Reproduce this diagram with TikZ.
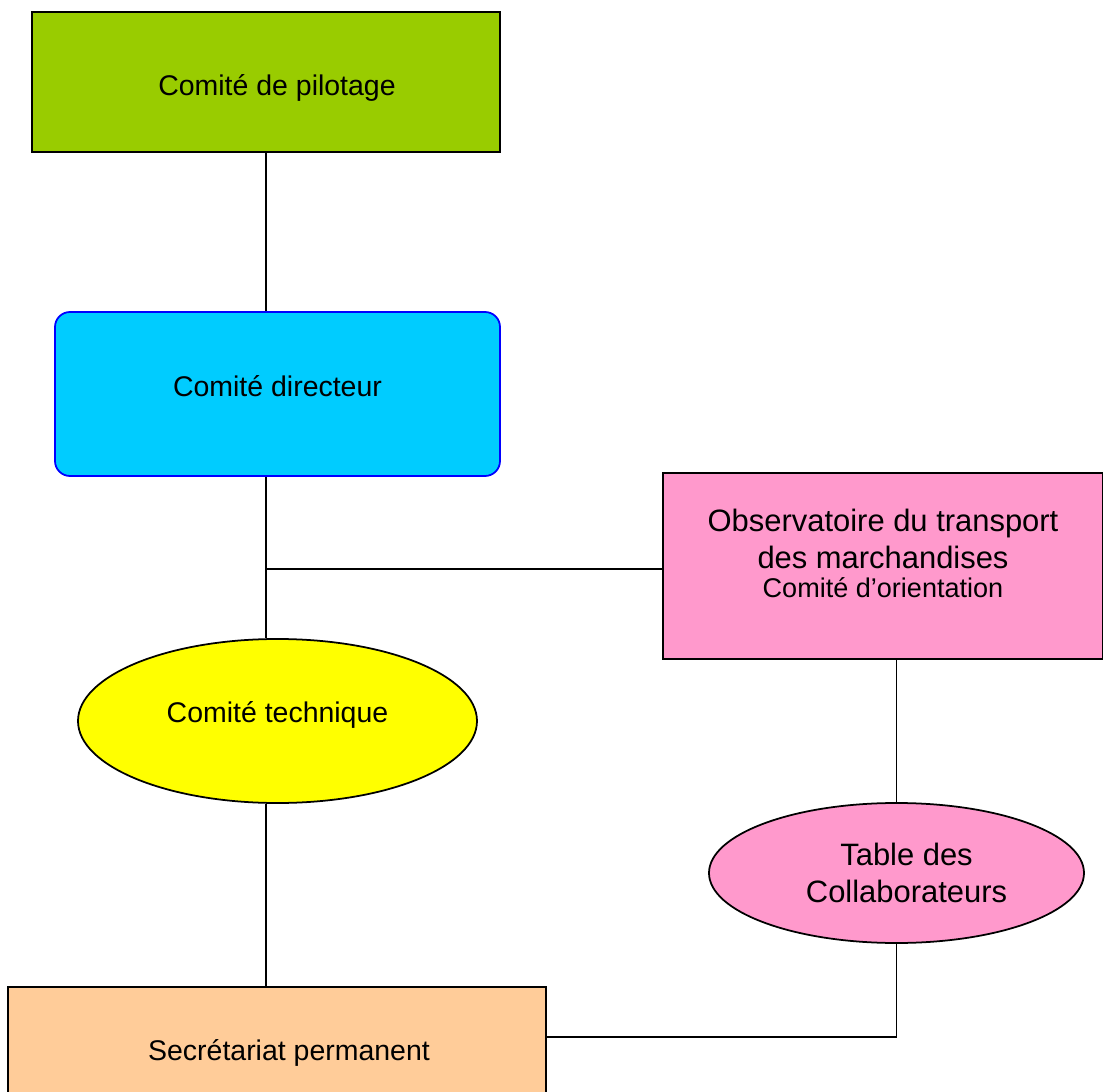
\documentclass[tikz,border=0pt]{standalone}
\usepackage{fontspec}
\setmainfont{Liberation Sans}
\usetikzlibrary{shapes.geometric}
\usetikzlibrary{positioning}
\definecolor{vertpil}{HTML}{99CC00}
\definecolor{bleudir}{HTML}{00CCFF}
\definecolor{rosobs}{HTML}{FF99CC}
\definecolor{jaunetech}{HTML}{FFFF00}
\definecolor{peachsec}{HTML}{FFCC99}
\begin{document}
\begin{tikzpicture}[line width=.5pt]
\tikzstyle{box}=[rectangle,draw=black,inner sep=2pt,align=center,font=\fontsize{8.1}{9.7}\selectfont]
\tikzstyle{oval}=[ellipse,draw=black,inner sep=0pt,align=center,font=\fontsize{8.1}{9.7}\selectfont]
\useasboundingbox (0,0) rectangle (11.03,-10.92);
\fill[white] (0,0) rectangle (11.03,-10.92);
\node [box] (pilot) at(2.66,-0.82) [fill=vertpil,minimum width=4.68cm,minimum height=1.40cm,text height=0.32cm] {\hspace{0.22cm}Comité de pilotage};
\node [box] (dir) at(2.775,-3.94) [fill=bleudir,draw=blue,rounded corners=0.15cm,minimum width=4.45cm,minimum height=1.64cm,text depth=0.16cm] {Comité directeur};
\node [box] (obs) at(8.83,-5.66) [fill=rosobs,minimum width=4.40cm,minimum height=1.86cm,font=\fontsize{8.8}{10.5}\selectfont,text depth=0.26cm] {Observatoire du transport\\des marchandises\\[-2.3pt]{\fontsize{7.7}{9}\selectfont Comité d’orientation}};
\node [oval] (tech) at(2.775,-7.21) [fill=jaunetech,minimum width=3.99cm,minimum height=1.64cm,text depth=0.17cm] {Comité technique};
\node [oval] (table) at(8.965,-8.73) [fill=rosobs,minimum width=3.75cm,minimum height=1.40cm,font=\fontsize{8.8}{10.5}\selectfont] {\hspace{0.2cm}Table des\\\hspace{0.2cm}Collaborateurs};
\node [box] (sec) at(2.77,-10.53) [fill=peachsec,minimum width=5.38cm,minimum height=1.32cm,text depth=0.05cm] {\hspace{0.24cm}Secrétariat permanent};

\coordinate (j1) at(2.66,-5.69);
\coordinate (k1) at(8.965,-10.37);

\draw (pilot.south) -- (pilot.south |- dir.north);
\draw (j1 |- dir.south) -- (j1 |- tech.north);
\draw (j1) -- (j1 -| obs.west);
\draw (j1 |- tech.south) -- (j1 |- sec.north);
\draw (table.north) -- (table.north |- obs.south);
\draw (table.south) -- (k1) -- (k1 -| sec.east);
\end{tikzpicture}
\end{document}
